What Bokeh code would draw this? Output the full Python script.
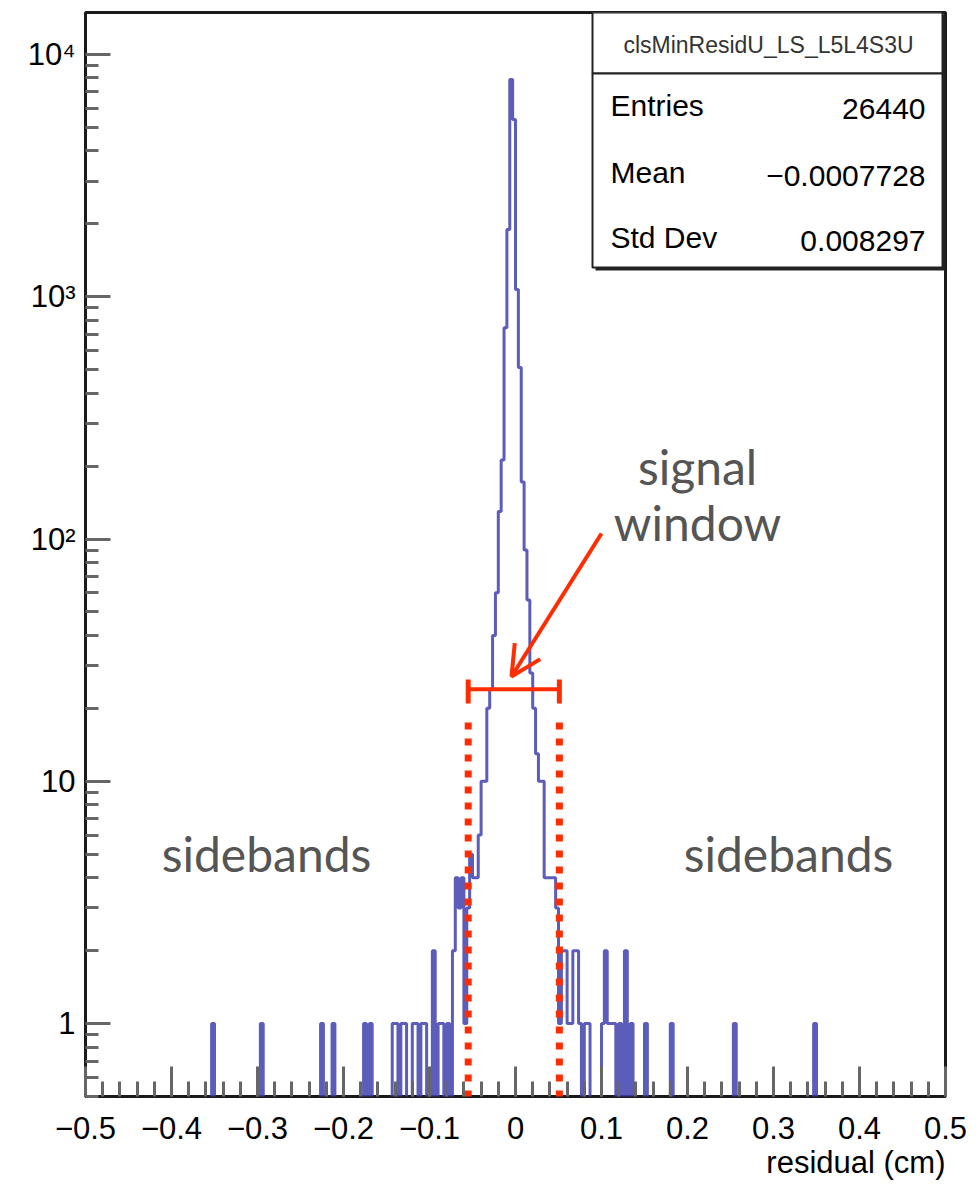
import numpy as np
from bokeh.plotting import figure
from bokeh.models import Range1d, FixedTicker, Label, BoxAnnotation, Arrow, OpenHead, Title
from bokeh.embed import file_html
from bokeh.resources import INLINE

# ---------------- data ----------------
n_bins = 300
x_lo, x_hi = -0.5, 0.5
y_lo, y_hi = 0.5, 14900.0

# non-empty bins: bin number (0..299) and content
bin_index = [44, 61, 82, 86, 97, 99, 107, 108, 110, 111, 114, 115, 117, 118,
             121, 123, 124, 126, 128, 129, 130, 131, 132, 133, 134, 135, 136, 137,
             138, 139, 140, 141, 142, 143, 144, 145, 146, 147, 148, 149, 150, 151,
             152, 153, 154, 155, 156, 157, 158, 159, 160, 161, 162, 163, 164, 165,
             166, 167, 168, 169, 170, 171, 172, 174, 175, 180, 181, 182, 183, 184,
             186, 188, 190, 195, 204, 226, 254]
bin_count = [1, 1, 1, 1, 1, 1, 1, 1, 1, 1, 1, 1, 1, 1,
             2, 1, 1, 1, 2, 4, 3, 4, 1, 3, 5, 4, 4, 6,
             10, 10, 20, 24, 40, 60, 130, 212, 745, 1895, 7890, 5390, 1070, 510,
             172, 90, 56, 28, 20, 13, 10, 10, 4, 4, 4, 4, 3, 1,
             2, 2, 1, 1, 2, 2, 1, 1, 1, 1, 2, 1, 1, 1,
             1, 2, 1, 1, 1, 1, 1]

x_ticks = [-0.5, -0.4, -0.3, -0.2, -0.1, 0.0, 0.1, 0.2, 0.3, 0.4, 0.5]
x_tick_labels = ["\u22120.5", "\u22120.4", "\u22120.3", "\u22120.2", "\u22120.1", "0",
                 "0.1", "0.2", "0.3", "0.4", "0.5"]
y_ticks = [1, 10, 100, 1000, 10000]
y_tick_labels = ["1", "10", "10\u00b2", "10\u00b3", "10\u2074"]
x_title = "residual (cm)"

stats_title = "clsMinResidU_LS_L5L4S3U"
stats_names = ["Entries", "Mean", "Std Dev"]
stats_values = ["26440", "\u22120.0007728", "0.008297"]

window_lo, window_hi = -0.055, 0.051
window_bar_level = 24.0

# ---------------- layout helpers (reference pixel -> data) ----------------
FL, FR, FT, FB = 85, 945, 12, 1096
def ax(px):
    return x_lo + (px - FL) / (FR - FL) * (x_hi - x_lo)
def ay(py):
    a, b = np.log10(y_lo), np.log10(y_hi)
    return 10 ** (a + (FB - py) / (FB - FT) * (b - a))

W, H = 975, 1182
p = figure(width=W, height=H, x_range=Range1d(x_lo, x_hi), y_range=Range1d(y_lo, y_hi),
           y_axis_type="log", output_backend="svg", toolbar_location=None,
           min_border_left=FL, min_border_right=W - FR, min_border_top=FT,
           min_border_bottom=H - FB)
p.xgrid.visible = False
p.ygrid.visible = False
p.outline_line_color = "#1a1a1a"
p.outline_line_width = 3
p.background_fill_color = "white"
p.border_fill_color = "white"

xa = p.xaxis[0]
ya = p.yaxis[0]
xa.ticker = FixedTicker(ticks=x_ticks,
                        minor_ticks=[round(-0.5 + 0.02 * k, 4) for k in range(51)])
ya_minor = [m * 10 ** e for e in range(-1, 5) for m in range(2, 10)
            if y_lo <= m * 10 ** e <= y_hi]
ya.ticker = FixedTicker(ticks=y_ticks, minor_ticks=ya_minor)
xa.major_label_overrides = {t: l for t, l in zip(x_ticks, x_tick_labels)}
ya.major_label_overrides = {t: l for t, l in zip(y_ticks, y_tick_labels)}
for a in (xa, ya):
    a.axis_line_color = None
    a.major_tick_out = 0
    a.minor_tick_out = 0
    a.major_tick_line_color = "#666666"
    a.minor_tick_line_color = "#666666"
    a.major_tick_line_width = 3
    a.minor_tick_line_width = 3
    a.major_label_text_font = "Liberation Sans"
    a.major_label_text_font_size = "31px"
    a.major_label_text_color = "black"
xa.major_tick_in = 30
xa.minor_tick_in = 15
ya.major_tick_in = 25
ya.minor_tick_in = 13
xa.major_label_standoff = 20
ya.major_label_standoff = 10

# x-axis title, right aligned under the axis (ROOT style)
p.add_layout(Title(text=x_title, align="right", text_font="Liberation Sans",
                   text_font_size="31px", text_font_style="normal",
                   text_color="black", standoff=2, offset=0), "below")

# ---------------- histogram ----------------
counts = np.zeros(n_bins)
counts[np.array(bin_index)] = bin_count
edges = np.linspace(x_lo, x_hi, n_bins + 1)
vals = np.where(counts > 0, counts, 0.3)
xs = np.repeat(edges, 2)[1:-1]
ys = np.repeat(vals, 2)
p.line(xs, ys, line_color="#3f3fae", line_width=3, line_alpha=0.85)

# ---------------- signal window annotations ----------------
red = "#ff2d00"
p.segment(x0=[window_lo, window_hi], y0=[ay(722)] * 2, x1=[window_lo, window_hi],
          y1=[0.3] * 2, line_color=red, line_width=7, line_dash="7 9")
p.segment(x0=[window_lo], y0=[window_bar_level], x1=[window_hi], y1=[window_bar_level],
          line_color=red, line_width=4)
p.segment(x0=[window_lo, window_hi], y0=[ay(679)] * 2, x1=[window_lo, window_hi],
          y1=[ay(703)] * 2, line_color=red, line_width=5)
p.add_layout(Arrow(end=OpenHead(line_color=red, line_width=4, size=30),
                   x_start=ax(601), y_start=ay(533), x_end=ax(511), y_end=ay(676),
                   line_color=red, line_width=4))

grey = "#555555"
for txt, px, py in [("signal", 697, 466), ("window", 697, 522),
                    ("sidebands", 266, 853), ("sidebands", 788, 853)]:
    p.add_layout(Label(x=ax(px), y=ay(py), text=txt, text_font="Lato",
                       text_font_size="48px", text_color=grey,
                       text_align="center", text_baseline="middle"))

# ---------------- stats box ----------------
p.add_layout(BoxAnnotation(left=ax(595), right=ax(945), top=ay(14), bottom=ay(270),
                           fill_color="#222222", fill_alpha=1.0, line_color=None))
p.add_layout(BoxAnnotation(left=ax(592), right=ax(942), top=ay(12), bottom=ay(73),
                           fill_color="white", fill_alpha=1.0, line_color="#222222",
                           line_alpha=1.0, line_width=2))
p.add_layout(BoxAnnotation(left=ax(592), right=ax(942), top=ay(73), bottom=ay(267),
                           fill_color="white", fill_alpha=1.0, line_color="#222222",
                           line_alpha=1.0, line_width=2))
p.add_layout(Label(x=ax(768), y=ay(44), text=stats_title, text_font="Liberation Sans",
                   text_font_size="23px", text_color="#333333", text_align="center",
                   text_baseline="middle"))
for name, val, py in zip(stats_names, stats_values, [105, 172, 237]):
    p.add_layout(Label(x=ax(610), y=ay(py), text=name, text_font="Liberation Sans",
                       text_font_size="30px", text_color="black", text_align="left",
                       text_baseline="middle"))
    p.add_layout(Label(x=ax(925), y=ay(py + 3), text=val, text_font="Liberation Sans",
                       text_font_size="30px", text_color="black", text_align="right",
                       text_baseline="middle"))

open("out.html", "w").write(file_html(p, INLINE))
